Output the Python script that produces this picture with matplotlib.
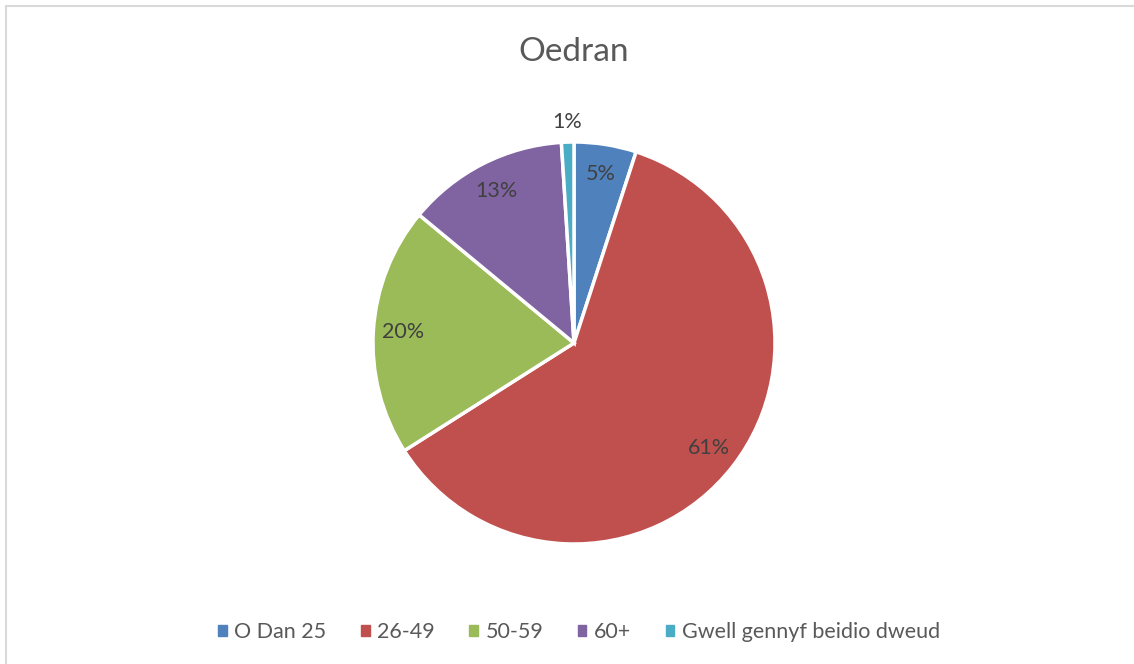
import numpy as np
import matplotlib
matplotlib.use("Agg")
import matplotlib.pyplot as plt
import matplotlib.patches as patches

title = "Oedran"
categories = ["O Dan 25", "26-49", "50-59", "60+", "Gwell gennyf beidio dweud"]
values = [5, 61, 20, 13, 1]
colors = ["#4F81BD", "#C0504D", "#9BBB59", "#8064A2", "#4BACC6"]

plt.rcParams['font.family'] = ['Lato', 'DejaVu Sans']
text_col = "#595959"

W, H = 1134, 664
fig = plt.figure(figsize=(W / 100, H / 100), dpi=100)

# light grey chart border
fig.patches.append(patches.Rectangle((6 / W, -0.01), 1.1, 1 - 6 / H + 0.01,
                                     transform=fig.transFigure, fill=False,
                                     edgecolor="#d9d9d9", linewidth=1.5))

cx, cy, r = 574, 343, 201
ax = fig.add_axes([(cx - r) / W, 1 - (cy + r) / H, 2 * r / W, 2 * r / H])
wedges, _ = ax.pie(values, colors=colors, startangle=90, counterclock=False,
                   radius=1, wedgeprops=dict(edgecolor="white", linewidth=2.5))
ax.set_xlim(-1, 1)
ax.set_ylim(-1, 1)
ax.axis('off')

total = sum(values)
for w, v in zip(wedges, values):
    mid = np.deg2rad((w.theta1 + w.theta2) / 2)
    d = 0.85 if v / total > 0.02 else 1.1
    ax.text(d * np.cos(mid), d * np.sin(mid), f"{v}%", ha='center', va='center',
            fontsize=15.5, color="#404040")

fig.text(cx / W, 1 - 52 / H, title, ha='center', va='center', fontsize=24, color=text_col)

handles = [patches.Patch(color=c) for c in colors]
fig.legend(handles, categories, loc='center', bbox_to_anchor=(579 / W, 1 - 632 / H),
           ncol=5, frameon=False, fontsize=15.5, labelcolor=text_col,
           handlelength=0.4, handleheight=0.4, handletextpad=0.35, columnspacing=1.6)

fig.savefig("out.png", dpi=100)
